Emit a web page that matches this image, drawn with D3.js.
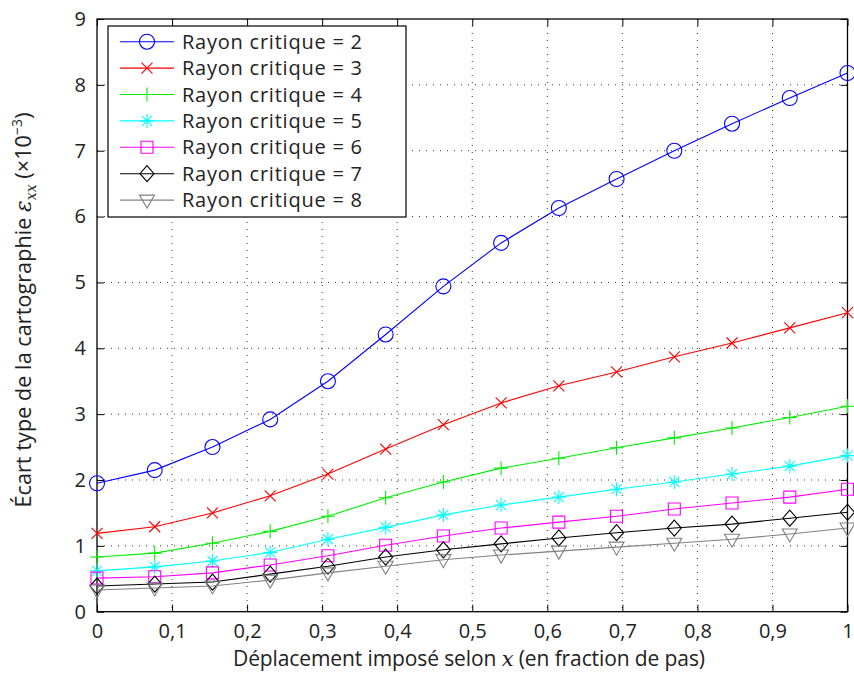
<!DOCTYPE html>
<html><head><meta charset="utf-8">
<script src="https://cdn.jsdelivr.net/npm/d3@7"></script>
<style>body{margin:0;background:#fff}svg{display:block}text{font-family:"Open Sans","DejaVu Sans",sans-serif;fill:#222}</style>
</head><body><svg id="c" width="854" height="673"></svg>
<script>
const xValues = [0,1/13,2/13,3/13,4/13,5/13,6/13,7/13,8/13,9/13,10/13,11/13,12/13,1];
const r2 = [1.95,2.15,2.50,2.92,3.50,4.21,4.94,5.60,6.13,6.57,7.00,7.41,7.80,8.18];
const r3 = [1.19,1.29,1.50,1.76,2.09,2.47,2.84,3.17,3.43,3.64,3.87,4.08,4.31,4.54];
const r4 = [0.83,0.89,1.04,1.22,1.45,1.73,1.97,2.18,2.33,2.49,2.64,2.79,2.95,3.12];
const r5 = [0.62,0.68,0.77,0.90,1.10,1.28,1.47,1.62,1.74,1.86,1.97,2.09,2.21,2.37];
const r6 = [0.51,0.53,0.59,0.71,0.85,1.01,1.15,1.27,1.36,1.45,1.56,1.65,1.74,1.86];
const r7 = [0.39,0.42,0.45,0.57,0.69,0.83,0.94,1.03,1.12,1.20,1.27,1.33,1.42,1.51];
const r8 = [0.33,0.36,0.39,0.48,0.59,0.69,0.79,0.86,0.92,0.98,1.04,1.10,1.18,1.27];
const seriesNames = ["Rayon critique = 2","Rayon critique = 3","Rayon critique = 4","Rayon critique = 5","Rayon critique = 6","Rayon critique = 7","Rayon critique = 8"];
const xTicks = [0,0.1,0.2,0.3,0.4,0.5,0.6,0.7,0.8,0.9,1];
const yTicks = [0,1,2,3,4,5,6,7,8,9];

const series = [
 {name:seriesNames[0], v:r2, color:"#0000ff", m:"circle"},
 {name:seriesNames[1], v:r3, color:"#ff0000", m:"x"},
 {name:seriesNames[2], v:r4, color:"#00ee00", m:"plus"},
 {name:seriesNames[3], v:r5, color:"#00ffff", m:"star"},
 {name:seriesNames[4], v:r6, color:"#ff00ff", m:"square"},
 {name:seriesNames[5], v:r7, color:"#000000", m:"diamond"},
 {name:seriesNames[6], v:r8, color:"#808080", m:"tri"}
];

const svg = d3.select("#c");
const L=97, R=847.5, T=19, B=611.7;
const x = d3.scaleLinear().domain([0,1]).range([L,R]);
const y = d3.scaleLinear().domain([0,9]).range([B,T]);

// grid
const g = svg.append("g");
g.selectAll(".gx").data(xTicks.slice(1,-1)).enter().append("line")
 .attr("x1",d=>x(d)).attr("x2",d=>x(d)).attr("y1",T).attr("y2",B)
 .attr("stroke","#333").attr("stroke-width",1).attr("stroke-dasharray","1,6");
g.selectAll(".gy").data(yTicks.slice(1,-1)).enter().append("line")
 .attr("y1",d=>y(d)).attr("y2",d=>y(d)).attr("x1",L).attr("x2",R)
 .attr("stroke","#333").attr("stroke-width",1).attr("stroke-dasharray","1,6");

// axes (ticks inward)
const fmt = d=> d3.format("~g")(d).replace(".",",");
const ax = d3.axisBottom(x).tickValues(xTicks).tickSize(-7).tickPadding(12).tickFormat(fmt);
const ay = d3.axisLeft(y).tickValues(yTicks).tickSize(-7).tickPadding(11).tickFormat(d=>d);
const axT = d3.axisTop(x).tickValues(xTicks).tickSize(-7).tickFormat("");
const ayR = d3.axisRight(y).tickValues(yTicks).tickSize(-7).tickFormat("");
function style(s){s.select(".domain").remove();s.selectAll("line").attr("stroke","#000");s.selectAll("text").attr("font-size",20).attr("fill","#222").attr("font-family","'Open Sans',sans-serif");}
svg.append("g").attr("transform",`translate(0,${B})`).call(ax).call(style);
svg.append("g").attr("transform",`translate(${L},0)`).call(ay).call(style);
svg.append("g").attr("transform",`translate(0,${T})`).call(axT).call(style);
svg.append("g").attr("transform",`translate(${R},0)`).call(ayR).call(style);
svg.append("rect").attr("x",L).attr("y",T).attr("width",R-L).attr("height",B-T).attr("fill","none").attr("stroke","#000").attr("stroke-width",1.3);

function marker(sel, type, color){
  const p = sel.append("path").attr("fill","none").attr("stroke",color).attr("stroke-width",1.1);
  let d;
  switch(type){
    case "circle": d="M-7.5,0A7.5,7.5 0 1,0 7.5,0A7.5,7.5 0 1,0 -7.5,0"; break;
    case "x": d="M-5.5,-5.5L5.5,5.5M-5.5,5.5L5.5,-5.5"; break;
    case "plus": d="M-7,0L7,0M0,-7L0,7"; break;
    case "star": d="M-7,0L7,0M0,-7L0,7M-5,-5L5,5M-5,5L5,-5"; break;
    case "square": d="M-6,-6H6V6H-6Z"; break;
    case "diamond": d="M0,-8L7,0L0,8L-7,0Z"; break;
    case "tri": d="M-7.5,-5L7.5,-5L0,8Z"; break;
  }
  p.attr("d",d);
}

const line = d3.line().x((d,i)=>x(xValues[i])).y(d=>y(d));
const plot = svg.append("g");
series.forEach(s=>{
  plot.append("path").datum(s.v).attr("d",line).attr("fill","none").attr("stroke",s.color).attr("stroke-width",1.1);
  s.v.forEach((v,i)=>{
    const mg = plot.append("g").attr("transform",`translate(${x(xValues[i])},${y(v)})`);
    marker(mg,s.m,s.color);
  });
});

// legend
const lg = svg.append("g");
lg.append("rect").attr("x",108).attr("y",26).attr("width",298).attr("height",191).attr("fill","#fff").attr("stroke","#000").attr("stroke-width",1.2);
series.forEach((s,i)=>{
  const cy = 41.7 + i*26.4;
  lg.append("line").attr("x1",120).attr("x2",174).attr("y1",cy).attr("y2",cy).attr("stroke",s.color).attr("stroke-width",1.1);
  marker(lg.append("g").attr("transform",`translate(147,${cy})`), s.m, s.color);
  lg.append("text").attr("x",182).attr("y",cy+7).attr("font-size",20).attr("fill","#222")
    .attr("textLength",180).attr("lengthAdjust","spacing").text(s.name);
});

// axis labels
svg.append("text").attr("x",469).attr("y",666).attr("text-anchor","middle").attr("font-size",21)
  .attr("textLength",472).attr("lengthAdjust","spacing")
  .html('Déplacement imposé selon <tspan font-family="DejaVu Serif, serif" font-style="italic">x</tspan> (en fraction de pas)');
svg.append("text").attr("transform",`translate(31,310) rotate(-90)`).attr("text-anchor","middle").attr("font-size",21.5)
  .attr("textLength",395).attr("lengthAdjust","spacing")
  .html('Écart type de la cartographie <tspan font-family="DejaVu Serif, serif" font-style="italic">ε</tspan><tspan font-family="DejaVu Serif, serif" font-style="italic" font-size="14" dy="5">xx</tspan><tspan dy="-5"> (×10</tspan><tspan font-size="14" dy="-9">−3</tspan><tspan dy="9">)</tspan>');
</script></body></html>
